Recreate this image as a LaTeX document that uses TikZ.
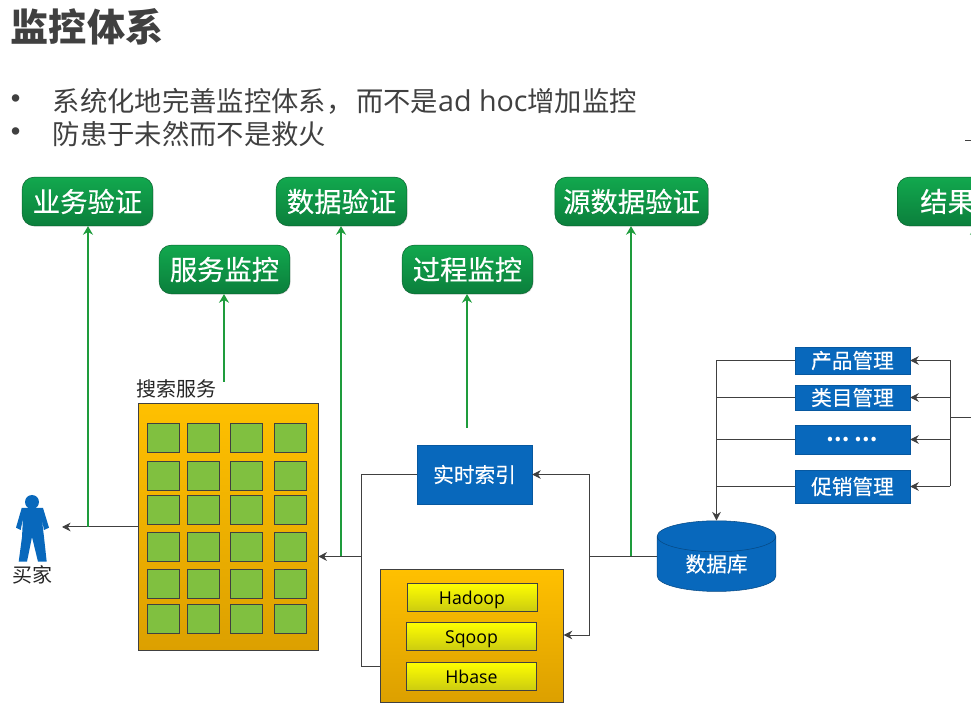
\documentclass[tikz,border=0pt]{standalone}
\usepackage{fontspec}
\usepackage{xcolor}
\usepackage{tikz}
\usetikzlibrary{shapes.geometric, arrows.meta, shadows}
\newfontfamily\cjk{Noto Sans CJK SC}
\newfontfamily\cjkheavy[FakeBold=0.35]{Noto Sans CJK SC}
\newfontfamily\latinfont{Open Sans}
\newfontfamily\dotfont{Liberation Sans}
\definecolor{inkgrey}{HTML}{404040}
\definecolor{linkgreen}{HTML}{1E9C3C}
\definecolor{pilltop}{HTML}{12A84E}
\definecolor{pillbottom}{HTML}{0B7F3C}
\definecolor{boxblue}{HTML}{0868BC}
\definecolor{amber}{HTML}{FFC000}
\definecolor{amberdark}{HTML}{DCA000}
\definecolor{cellgreen}{HTML}{80C040}
\definecolor{cellyellow}{HTML}{FFFF00}
\definecolor{yellowdark}{HTML}{CCCC10}

\begin{document}
\begin{tikzpicture}[
    x=0.75pt, y=-0.75pt,
    headline/.style = {anchor=west, inner sep=0pt, text=inkgrey, font=\cjk\bfseries\fontsize{28.6}{30}\selectfont},
    bullet/.style = {anchor=west, inner sep=0pt, text=inkgrey, font=\cjk\fontsize{20.5}{24}\selectfont},
    pill/.style = {rectangle, rounded corners=9pt, draw=pillbottom!80!black, top color=pilltop,
                   bottom color=pillbottom, text=white, minimum width=98pt, minimum height=36.5pt,
                   inner sep=0pt, drop shadow={shadow xshift=0.6pt, shadow yshift=-0.6pt, opacity=0.25},
                   font=\cjkheavy\fontsize{20.5}{24}\selectfont},
    bluebox/.style = {rectangle, fill=boxblue, draw=boxblue!85!black, text=white, minimum width=86pt,
                      inner sep=0pt, drop shadow={shadow xshift=0.6pt, shadow yshift=-0.6pt, opacity=0.2},
                      font=\cjkheavy\fontsize{15.5}{18}\selectfont},
    amberbox/.style = {rectangle, draw=inkgrey, top color=amber, bottom color=amberdark, inner sep=0pt},
    cell/.style = {rectangle, draw=inkgrey, fill=cellgreen, minimum width=24pt, minimum height=22pt, inner sep=0pt},
    tool/.style = {rectangle, draw=inkgrey, top color=cellyellow, bottom color=yellowdark, text=black,
                   minimum width=97.5pt, minimum height=21pt, inner sep=0pt, text height=13pt, text depth=2pt,
                   font=\latinfont\fontsize{13.3}{15}\selectfont},
    caption/.style = {inner sep=0pt, text=black!85, font=\cjk\fontsize{15}{18}\selectfont},
    link/.style = {color=inkgrey, line width=0.75pt},
    arrow/.style = {-{Stealth[length=6.5pt, width=6.5pt]}, color=inkgrey, line width=0.75pt},
    check/.style = {-{Stealth[length=6.5pt, width=7.5pt]}, color=linkgreen, line width=1.8pt}
  ]
  \useasboundingbox (0,0) rectangle (971,712);
  \clip (0,0) rectangle (971,712);

  \node[headline] (title) at (10.5,27) {监控体系};
  \node[bullet, font=\dotfont\fontsize{20.5}{24}\selectfont] (dotone) at (10.5,101) {•};
  \node[bullet] (lineone) at (52.5,101) {系统化地完善监控体系，\hspace{2pt}而不是{\latinfont\fontsize{21.5}{24}\selectfont ad hoc}增加监控};
  \node[bullet, font=\dotfont\fontsize{20.5}{24}\selectfont] (dottwo) at (10.5,134) {•};
  \node[bullet] (linetwo) at (52.5,134) {防患于未然而不是救火};

  % checks
  \node[pill] (bizcheck)  at (87.5,201.5)  {业务验证};
  \node[pill] (svcwatch)  at (224.5,269.5) {服务监控};
  \node[pill] (datacheck) at (341.5,201.5) {数据验证};
  \node[pill] (procwatch) at (467.5,269.5) {过程监控};
  \node[pill, minimum width=115pt] (srccheck) at (631.5,201.5) {源数据验证};
  \node[pill, anchor=west, inner xsep=17.25pt, minimum width=0pt] (rescheck) at (897,201.5) {结果};

  % search cluster
  \node[amberbox, minimum width=135pt, minimum height=185pt] (search) at (228,526.5) {};
  \node[caption, anchor=west] (searchlabel) at (136,389) {搜索服务};
  \foreach \cx/\ci in {163/1, 203/2, 246/3, 290/4}
    \foreach \cy/\cj in {437.5/1, 475.5/2, 509.5/3, 546.5/4, 583.5/5, 619/6}
      \node[cell] (cell\ci\cj) at (\cx,\cy) {};

  % buyer
  \fill[boxblue] (32,502) circle (7);
  \fill[boxblue] (21.7,508) -- (43,508) -- (49,527.7) -- (44,530) -- (41.7,518) -- (44,537)
    -- (46.7,561.7) -- (38,561.7) -- (32,537) -- (27,561.7) -- (18.7,561.7) -- (22,537)
    -- (23,518) -- (20.7,530) -- (16,527.7) -- cycle;
  \coordinate (buyer) at (62,527);
  \node[caption] (buyerlabel) at (32.5,575) {买家};

  % index and offline
  \node[bluebox, minimum height=44pt] (index) at (474.5,474.5) {实时索引};
  \node[amberbox, minimum width=137pt, minimum height=99.5pt] (offline) at (472,636) {};
  \node[tool] (hadoop) at (472,597)   {Hadoop};
  \node[tool] (sqoop)  at (471.5,636) {Sqoop};
  \node[tool] (hbase)  at (471.5,676) {Hbase};

  \node[cylinder, shape border rotate=90, aspect=0.5, draw=boxblue!70!black, fill=boxblue, text=white,
        minimum width=89pt, minimum height=53pt, inner sep=0pt, font=\cjkheavy\fontsize{15.5}{18}\selectfont] (db) at (716.5,564) {数据库};

  % admin
  \node[bluebox, minimum height=20pt] (product) at (852.5,360.5) {产品管理};
  \node[bluebox, minimum height=19pt] (category) at (852.5,397.5) {类目管理};
  \node[bluebox, minimum height=22pt, font=\cjk\bfseries\fontsize{15.5}{18}\selectfont] (others) at (852.5,439.5) {… …};
  \node[bluebox, minimum height=25pt] (promo) at (852.5,486.5) {促销管理};

  \coordinate (adminfork) at (950,418);
  \coordinate (adminin) at (971,418);
  \coordinate (dbfork) at (589,556.5);
  \coordinate (mergefork) at (361.5,556.5);
  \coordinate (edgemark) at (965,141);
  \coordinate (edgemarkend) at (971,141);

  \draw[link] (db.north |- product.west) -- (product.west);
  \foreach \n in {category, others, promo}
    \draw[link] (\n.west) -- (\n.west -| db.north);
  \draw[arrow] (db.north |- product.west) -- (db.north);
  \draw[link] (adminfork |- product.east) -- (adminfork |- promo.east);
  \draw[link] (adminin) -- (adminfork);
  \foreach \n in {product, category, others, promo}
    \draw[arrow] (adminfork |- \n.east) -- (\n.east);
  \draw[link] (edgemark) -- (edgemarkend);

  \draw[link] (db.west |- dbfork) -- (dbfork);
  \draw[arrow] (dbfork) |- (index.east);
  \draw[arrow] (dbfork) |- (offline.east |- 0,635);
  \draw[link] (index.west) -| (mergefork);
  \draw[link] (offline.west |- 0,666) -| (mergefork);
  \draw[arrow] (mergefork) -- (search.east |- mergefork);
  \draw[arrow] (search.west |- buyer) -- (buyer);

  % green checks
  \coordinate (bizfoot) at (88,527);
  \coordinate (svcfoot) at (224,382);
  \coordinate (datafoot) at (341,556.5);
  \coordinate (procfoot) at (467,428);
  \coordinate (srcfoot) at (631,556.5);
  \coordinate (resfoot) at (975,270);
  \draw[check] (bizfoot) -- (bizfoot |- bizcheck.south);
  \draw[check] (svcfoot) -- (svcfoot |- svcwatch.south);
  \draw[check] (datafoot) -- (datafoot |- datacheck.south);
  \draw[check] (procfoot) -- (procfoot |- procwatch.south);
  \draw[check] (srcfoot) -- (srcfoot |- srccheck.south);
  \draw[check] (resfoot) -- (resfoot |- rescheck.south);
\end{tikzpicture}
\end{document}
